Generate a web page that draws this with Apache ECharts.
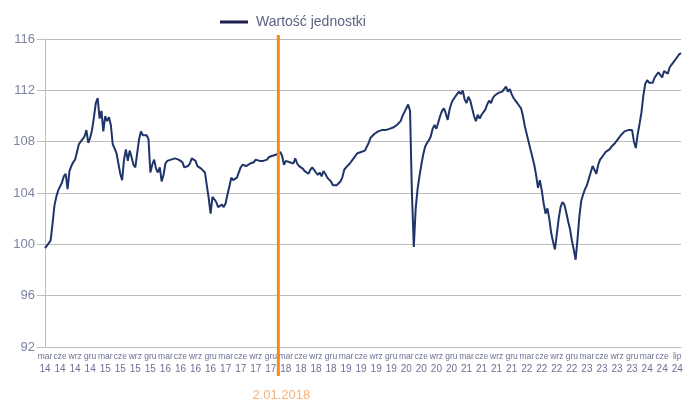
<!DOCTYPE html>
<html>
<head>
<meta charset="utf-8">
<script src="https://cdn.jsdelivr.net/npm/echarts@6/dist/echarts.min.js"></script>
<style>
html,body{margin:0;padding:0;background:#fff;}
#chart{width:696px;height:401px;}
</style>
</head>
<body>
<div id="chart"></div>
<script>
const seriesName = 'Wartość jednostki';
const tickLabels = [
 'mar\n14','cze\n14','wrz\n14','gru\n14',
 'mar\n15','cze\n15','wrz\n15','gru\n15',
 'mar\n16','cze\n16','wrz\n16','gru\n16',
 'mar\n17','cze\n17','wrz\n17','gru\n17',
 'mar\n18','cze\n18','wrz\n18','gru\n18',
 'mar\n19','cze\n19','wrz\n19','gru\n19',
 'mar\n20','cze\n20','wrz\n20','gru\n20',
 'mar\n21','cze\n21','wrz\n21','gru\n21',
 'mar\n22','cze\n22','wrz\n22','gru\n22',
 'mar\n23','cze\n23','wrz\n23','gru\n23',
 'mar\n24','cze\n24','lip\n24'
];
const pointsPerTick = 8;
const values = [
 99.7, 99.6, 100.1, 100.3, 101.6, 103.0, 103.7, 104.2,
 104.5, 104.8, 105.3, 105.5, 104.3, 105.7, 106.1, 106.4,
 106.6, 107.2, 107.8, 108.0, 108.0, 108.4, 108.9, 107.9,
 108.3, 108.9, 109.9, 111.0, 111.4, 109.8, 110.4, 108.8,
 110.0, 109.6, 109.9, 109.3, 107.8, 107.9, 107.1, 106.3,
 105.5, 105.0, 106.6, 107.4, 106.5, 107.3, 106.8, 106.2,
 106.0, 107.1, 108.2, 108.8, 108.5, 108.4, 108.5, 108.2,
 105.6, 106.2, 106.6, 105.9, 105.6, 106.0, 104.9, 105.4,
 106.3, 106.5, 106.5, 106.6, 106.6, 106.7, 106.6, 106.6,
 106.7, 106.4, 106.0, 106.0, 106.1, 106.3, 106.7, 106.6,
 106.5, 106.1, 106.2, 105.9, 105.9, 105.6, 104.6, 103.6,
 102.4, 103.7, 103.5, 103.3, 102.9, 103.0, 103.1, 102.9,
 103.2, 103.9, 104.5, 105.2, 105.0, 105.1, 105.2, 105.6,
 106.0, 106.2, 106.3, 106.1, 106.2, 106.3, 106.3, 106.4,
 106.6, 106.5, 106.5, 106.6, 106.5, 106.5, 106.6, 106.8,
 106.8, 106.9, 107.0, 107.0, 107.1, 107.2, 106.9, 106.2,
 106.5, 106.5, 106.4, 106.5, 106.3, 106.7, 106.3, 106.1,
 106.0, 105.9, 105.7, 105.6, 105.5, 105.8, 106.0, 105.9,
 105.6, 105.4, 105.6, 105.3, 105.7, 105.5, 105.2, 105.1,
 104.9, 104.6, 104.5, 104.6, 104.7, 104.9, 105.2, 105.8,
 106.0, 106.1, 106.3, 106.5, 106.7, 106.9, 107.1, 107.2,
 107.2, 107.2, 107.3, 107.4, 107.9, 108.3, 108.4, 108.6,
 108.7, 108.8, 108.8, 108.9, 108.9, 108.9, 109.0, 109.0,
 109.1, 109.1, 109.2, 109.3, 109.4, 109.6, 110.0, 110.3,
 110.6, 110.9, 110.4, 104.0, 99.8, 102.8, 104.3, 105.3,
 106.2, 107.0, 107.6, 107.9, 108.1, 108.4, 109.0, 109.3,
 109.0, 109.5, 110.0, 110.4, 110.6, 110.2, 109.7, 110.5,
 111.0, 111.3, 111.5, 111.7, 111.9, 111.7, 112.0, 111.3,
 111.0, 111.5, 111.2, 110.6, 110.0, 109.6, 110.1, 109.8,
 110.1, 110.0, 110.5, 110.9, 111.2, 111.0, 111.4, 111.6,
 111.5, 111.8, 111.7, 111.9, 112.1, 112.3, 111.9, 112.1,
 111.7, 111.4, 111.2, 111.0, 110.8, 110.6, 110.0, 109.2,
 108.6, 108.0, 107.4, 106.8, 106.2, 105.4, 104.4, 105.0,
 104.2, 103.2, 102.4, 102.8, 102.0, 100.9, 100.2, 99.6,
 100.8, 102.0, 102.9, 103.3, 103.1, 102.5, 101.8, 101.2,
 100.3, 99.6, 98.8, 100.4, 102.2, 103.4, 103.9, 104.3,
 104.6, 105.1, 105.6, 106.1, 106.0, 105.5, 106.2, 106.6,
 106.8, 107.0, 107.2, 107.1, 107.4, 107.6, 107.5, 107.9,
 108.1, 108.3, 108.5, 108.6, 108.8, 108.7, 108.9, 109.0,
 108.9, 108.0, 107.5, 108.6, 109.4, 110.3, 111.6, 112.5,
 112.8, 112.6, 112.7, 112.6, 113.0, 113.2, 113.4, 113.2,
 113.0, 113.5, 113.6, 113.3, 113.8, 114.0, 114.2, 114.3,
 114.6, 114.8, 114.9
];
const yMin = 92, yMax = 116, yStep = 4;
const eventIndex = 124;
const eventLabel = '2.01.2018';

const categories = values.map((v, i) => (i % pointsPerTick === 0 && tickLabels[i / pointsPerTick]) ? tickLabels[i / pointsPerTick] : '');

const chart = echarts.init(document.getElementById('chart'), null, {renderer: 'canvas'});
const FONT = '"Liberation Sans", Arial, sans-serif';
chart.setOption({
  animation: false,
  backgroundColor: '#ffffff',
  grid: {left: 45, right: 15, top: 39, bottom: 54, containLabel: false},
  legend: {
    show: true,
    left: 215, top: 10,
    icon: 'rect', itemWidth: 28, itemHeight: 3,
    textStyle: {fontFamily: FONT, fontSize: 14, color: '#5d6284', padding: [0, 0, 0, 3]},
    data: [{name: seriesName, itemStyle: {color: '#1c1f4f'}}]
  },
  xAxis: {
    type: 'category',
    data: categories,
    boundaryGap: false,
    axisLine: {show: true, lineStyle: {color: '#bdbdbd', width: 1}},
    axisTick: {show: false},
    splitLine: {show: false},
    axisLabel: {
      interval: pointsPerTick - 1,
      margin: 4,
      fontFamily: FONT,
      color: '#6c7194',
      formatter: function (v) {
        if (!v) return '';
        const p = v.split('\n');
        return '{m|' + p[0] + '}\n{y|' + p[1] + '}';
      },
      rich: {
        m: {fontSize: 8.5, lineHeight: 12, color: '#6c7194', fontFamily: FONT},
        y: {fontSize: 10, lineHeight: 12, color: '#6c7194', fontFamily: FONT}
      }
    }
  },
  yAxis: {
    type: 'value',
    min: yMin, max: yMax, interval: yStep,
    axisLine: {show: true, lineStyle: {color: '#bdbdbd', width: 1}},
    axisTick: {show: true, length: 8, lineStyle: {color: '#bdbdbd'}},
    splitLine: {show: true, lineStyle: {color: '#bdbdbd', width: 1}},
    axisLabel: {margin: 10, fontFamily: FONT, fontSize: 13, color: '#7e83a3'}
  },
  series: [{
    name: seriesName,
    type: 'line',
    data: values,
    showSymbol: false,
    symbol: 'none',
    lineStyle: {color: '#1f3468', width: 2},
    itemStyle: {color: '#1f3468'},
    z: 3
  }]
});

const px = chart.convertToPixel({xAxisIndex: 0}, eventIndex);
const pyTop = chart.convertToPixel({yAxisIndex: 0}, yMax);
const pyBottom = chart.convertToPixel({yAxisIndex: 0}, yMin);
chart.setOption({
  graphic: [
    {type: 'line', z: 100, shape: {x1: px, y1: pyTop - 4, x2: px, y2: pyBottom + 29},
     style: {stroke: '#f5891f', lineWidth: 3}},
    {type: 'text', z: 100, x: px + 3, y: pyBottom + 48,
     style: {text: eventLabel, fill: '#f6b07a', font: '13px ' + FONT, textAlign: 'center', textVerticalAlign: 'middle'}}
  ]
});
</script>
</body>
</html>
